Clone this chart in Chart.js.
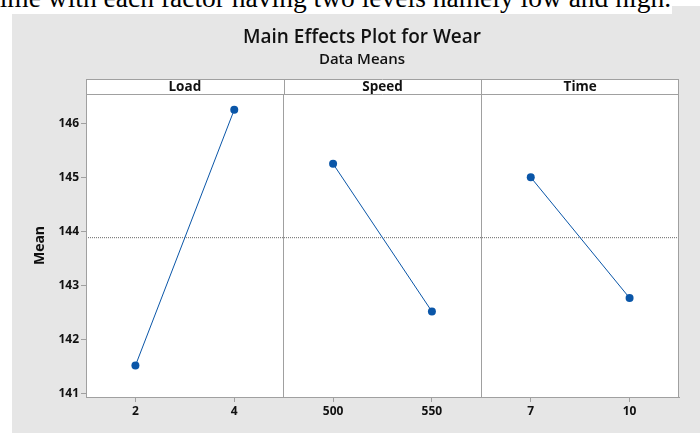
<!DOCTYPE html>
<html>
<head>
<meta charset="utf-8">
<script src="https://cdn.jsdelivr.net/npm/chart.js@4.4.1/dist/chart.umd.min.js"></script>
<style>
html,body{margin:0;padding:0;background:#fff;width:700px;height:433px;overflow:hidden;}
#caption{position:absolute;left:0;top:0;width:672px;height:14px;overflow:hidden;background:#fff;}
#caption span{position:absolute;right:1px;top:-16px;font-family:"Liberation Serif","Times New Roman",serif;font-size:27.5px;line-height:28px;white-space:nowrap;color:#000;}
#panel{position:absolute;left:12px;top:14px;width:688px;height:419px;background:#e6e6e6;}
#corner{position:absolute;left:672px;top:6px;width:28px;height:8px;background:#e6e6e6;}
#c{position:absolute;left:0;top:0;}
</style>
</head>
<body>
<div id="panel"></div>
<div id="corner"></div>
<div id="caption"><span>time with each factor having two levels namely low and high.</span></div>
<canvas id="c" width="700" height="433"></canvas>
<script>
// ---- data ----
const titleText = 'Main Effects Plot for Wear';
const subtitleText = 'Data Means';
const yAxisLabel = 'Mean';
const factors = ['Load', 'Speed', 'Time'];
const levels = [['2', '4'], ['500', '550'], ['7', '10']];
const means = [[141.52, 146.25], [145.25, 142.52], [145.00, 142.77]];
const yTickValues = [141, 142, 143, 144, 145, 146];
const yRange = [140.94, 146.54];

// ---- derived ----
const allMeans = means.flat();
const grandMean = allMeans.reduce((a, b) => a + b, 0) / allMeans.length;
const levelPos = [0.25, 0.75];       // position of the two levels inside each panel

const GRID = '#a0a0a0';
const BLUE = '#0a56a8';
const FONT = '"Open Sans", "Noto Sans", sans-serif';

const datasets = factors.map((f, i) => ({
  label: f,
  data: levels[i].map((lv, j) => ({ x: i + levelPos[j], y: means[i][j] })),
  borderColor: BLUE,
  backgroundColor: BLUE,
  borderWidth: 1,
  pointRadius: 4,
  pointHoverRadius: 4,
  pointBorderWidth: 0,
  tension: 0,
  order: 1
}));
datasets.push({
  label: 'Grand mean',
  data: [{ x: 0, y: grandMean }, { x: factors.length, y: grandMean }],
  borderColor: '#6a6a6a',
  borderWidth: 1,
  borderDash: [1, 1],
  pointRadius: 0,
  order: 2
});

const xTicks = [];
factors.forEach((f, i) => {
  levels[i].forEach((lv, j) => xTicks.push({ value: i + levelPos[j], lbl: lv }));
  if (i > 0) xTicks.push({ value: i, lbl: '', div: true });
});
xTicks.sort((a, b) => a.value - b.value);

const framePlugin = {
  id: 'frame',
  beforeDraw(chart) {
    const { ctx, chartArea: a } = chart;
    ctx.save();
    ctx.fillStyle = '#ffffff';
    ctx.fillRect(a.left, a.top, a.right - a.left, a.bottom - a.top);
    ctx.restore();
  },
  afterDraw(chart) {
    const { ctx, chartArea: a } = chart;
    const xs = chart.scales.x;
    const headerH = 15;
    const top = a.top - headerH;
    ctx.save();
    // header strip
    ctx.fillStyle = '#ffffff';
    ctx.fillRect(a.left, top, a.right - a.left, headerH);
    ctx.strokeStyle = GRID;
    ctx.lineWidth = 1;
    ctx.beginPath();
    ctx.moveTo(Math.round(a.left) + 0.5, top + 0.5);
    ctx.lineTo(Math.round(a.right) - 0.5, top + 0.5);
    ctx.moveTo(Math.round(a.left) + 0.5, Math.round(a.top) + 0.5);
    ctx.lineTo(Math.round(a.right) - 0.5, Math.round(a.top) + 0.5);
    ctx.moveTo(Math.round(a.left) + 0.5, top);
    ctx.lineTo(Math.round(a.left) + 0.5, a.bottom);
    ctx.moveTo(Math.round(a.right) - 0.5, top);
    ctx.lineTo(Math.round(a.right) - 0.5, a.bottom);
    for (let i = 1; i < factors.length; i++) {
      const px = Math.round(xs.getPixelForValue(i)) + 0.5;
      ctx.moveTo(px, top);
      ctx.lineTo(px, a.top);
    }
    ctx.stroke();
    ctx.fillStyle = '#111111';
    ctx.font = 'bold 13.5px ' + FONT;
    ctx.textAlign = 'center';
    ctx.textBaseline = 'middle';
    factors.forEach((f, i) => {
      ctx.fillText(f, xs.getPixelForValue(i + 0.5), top + headerH / 2 + 0.5);
    });
    // titles
    ctx.textBaseline = 'alphabetic';
    ctx.fillStyle = '#111111';
    ctx.font = '600 19px ' + FONT;
    ctx.fillText(titleText, 362, 42.5);
    ctx.font = '600 15px ' + FONT;
    ctx.fillText(subtitleText, 362, 63.5);
    ctx.restore();
  }
};

new Chart(document.getElementById('c'), {
  type: 'line',
  data: { datasets },
  options: {
    responsive: false,
    animation: false,
    devicePixelRatio: 1,
    layout: { padding: { left: 30, top: 94, right: 21, bottom: 0 } },
    plugins: { legend: { display: false }, tooltip: { enabled: false }, title: { display: false } },
    scales: {
      x: {
        type: 'linear',
        min: 0,
        max: factors.length,
        afterBuildTicks(scale) { scale.ticks = xTicks.map(t => ({ ...t })); },
        afterFit(scale) { scale.height = 36; },
        ticks: {
          autoSkip: false,
          maxRotation: 0,
          padding: 2,
          color: '#111111',
          font: { family: FONT, size: 12, weight: 'bold' },
          callback(value, index, ticks) { return ticks[index] ? ticks[index].lbl : ''; }
        },
        grid: {
          drawOnChartArea: true,
          drawTicks: true,
          tickLength: 5,
          lineWidth: 1,
          color: (c) => (c.tick && c.tick.div ? GRID : 'rgba(0,0,0,0)'),
          tickColor: (c) => (c.tick && c.tick.div ? 'rgba(0,0,0,0)' : GRID)
        },
        border: { display: true, color: GRID, width: 1 }
      },
      y: {
        type: 'linear',
        min: yRange[0],
        max: yRange[1],
        afterBuildTicks(scale) { scale.ticks = yTickValues.map(v => ({ value: v })); },
        afterFit(scale) { scale.width = 56; },
        title: {
          display: true,
          text: yAxisLabel,
          color: '#111111',
          font: { family: FONT, size: 14, weight: 'bold' },
          padding: { top: 2, bottom: 0 }
        },
        ticks: {
          padding: 2,
          color: '#111111',
          font: { family: FONT, size: 12, weight: 'bold' },
          callback(value) { return String(value); }
        },
        grid: {
          drawOnChartArea: false,
          drawTicks: true,
          tickLength: 5,
          tickColor: GRID
        },
        border: { display: true, color: GRID, width: 1 }
      }
    }
  },
  plugins: [framePlugin]
});
</script>
</body>
</html>
